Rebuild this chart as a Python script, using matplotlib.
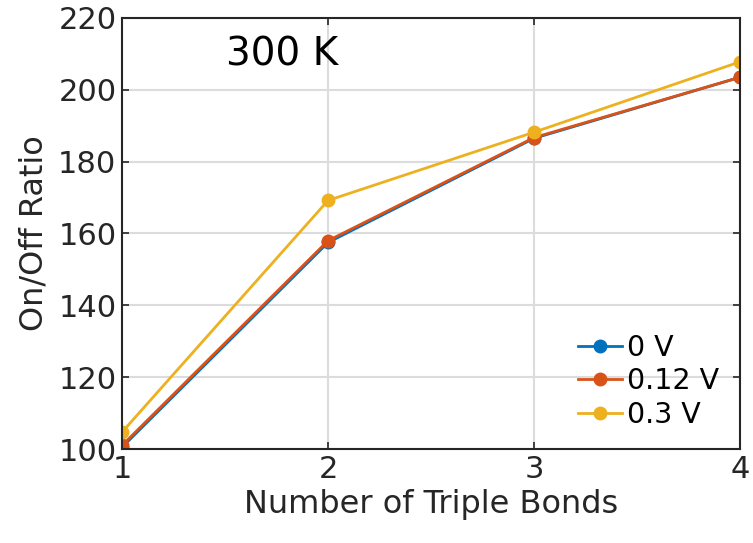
import matplotlib
matplotlib.use("Agg")
import matplotlib.pyplot as plt

bonds = [1, 2, 3, 4]
v0 = [100.5, 157.5, 186.5, 203.5]
v012 = [101.0, 158.0, 186.7, 203.5]
v03 = [104.7, 169.2, 188.2, 207.8]
labels = ["0 V", "0.12 V", "0.3 V"]
colors = ["#0072BD", "#D95319", "#EDB120"]

fig = plt.figure(figsize=(7.53, 5.43), dpi=100)
ax = fig.add_axes([0.162, 0.173, 0.821, 0.794])
for ys, lab, c in zip([v0, v012, v03], labels, colors):
    ax.plot(bonds, ys, '-o', color=c, lw=2, ms=9, label=lab)

ax.set_xlim(1, 4)
ax.set_ylim(100, 220)
ax.set_xticks([1, 2, 3, 4])
ax.set_yticks(range(100, 221, 20))
ax.grid(True, color='#dcdcdc', lw=1.5)
ax.set_axisbelow(True)
for s in ax.spines.values():
    s.set_linewidth(1.5)
    s.set_color('#262626')
ax.tick_params(labelsize=22, direction='in', length=5, width=1.2, colors='#262626', pad=4,
               top=True, right=True)
ax.set_xlabel("Number of Triple Bonds", fontsize=23, color='#262626', labelpad=4)
ax.set_ylabel("On/Off Ratio", fontsize=23, color='#262626', labelpad=6)
ax.text(0.168, 0.915, "300 K", transform=ax.transAxes, fontsize=28, va='center')
leg = ax.legend(loc='lower right', frameon=False, fontsize=20.5, handlelength=1.55,
                handletextpad=0.2, labelspacing=0.2, borderaxespad=0,
                bbox_to_anchor=(0.985, 0.02))
fig.savefig("out.png", dpi=100)
